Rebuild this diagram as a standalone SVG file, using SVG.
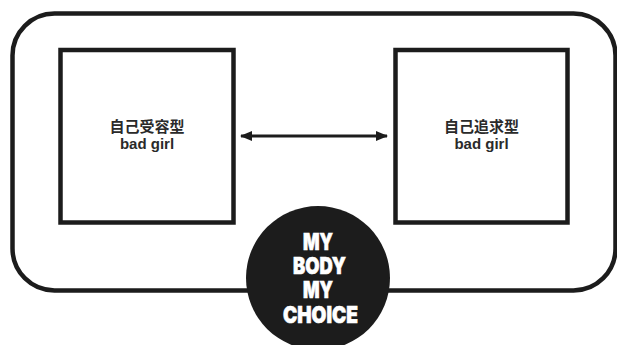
<svg xmlns="http://www.w3.org/2000/svg" width="617" height="345" viewBox="0 0 617 345">
<defs>
<style>
.frame{fill:none;stroke:#1c1c1c;stroke-width:4.5}
.box{fill:#fff;stroke:#1c1c1c;stroke-width:4.5}
.lbl{font-family:"Liberation Sans","Noto Sans CJK JP",sans-serif;font-weight:bold;font-size:15px;fill:#2a2a2a;text-anchor:middle}
.big{font-family:Inter,"Liberation Sans",Arial,sans-serif;font-weight:900;font-size:23px;fill:#fff;stroke:#fff;stroke-width:0.6;text-anchor:middle}
.conn{stroke:#1c1c1c;stroke-width:3;fill:none}
</style>
<marker id="ah" viewBox="0 0 12 10" refX="11" refY="5" markerWidth="12" markerHeight="10" markerUnits="userSpaceOnUse" orient="auto-start-reverse">
<path d="M0,0 L12,5 L0,10 z" fill="#1c1c1c"/>
</marker>
</defs>
<g id="frame">
<rect class="frame" x="12.5" y="13.5" width="603" height="277" rx="42" ry="42"/>
</g>
<g id="node-left">
<rect class="box" x="60.5" y="50" width="173" height="172.5"/>
<text class="lbl" x="147" y="132">自己受容型</text>
<text class="lbl" x="147" y="149">bad girl</text>
</g>
<g id="node-right">
<rect class="box" x="395.5" y="50" width="172" height="172.5"/>
<text class="lbl" x="481.5" y="132">自己追求型</text>
<text class="lbl" x="481.5" y="149">bad girl</text>
</g>
<g id="connectors">
<line class="conn" x1="241" y1="136" x2="387" y2="136" marker-start="url(#ah)" marker-end="url(#ah)"/>
</g>
<g id="node-circle">
<circle cx="318" cy="278" r="72" fill="#1c1c1c"/>
<text class="big" x="318" y="250" textLength="30" lengthAdjust="spacingAndGlyphs">MY</text>
<text class="big" x="319.5" y="273.5" textLength="53" lengthAdjust="spacingAndGlyphs">BODY</text>
<text class="big" x="318" y="298" textLength="30" lengthAdjust="spacingAndGlyphs">MY</text>
<text class="big" x="320.5" y="322.5" textLength="75" lengthAdjust="spacingAndGlyphs">CHOICE</text>
</g>
</svg>
